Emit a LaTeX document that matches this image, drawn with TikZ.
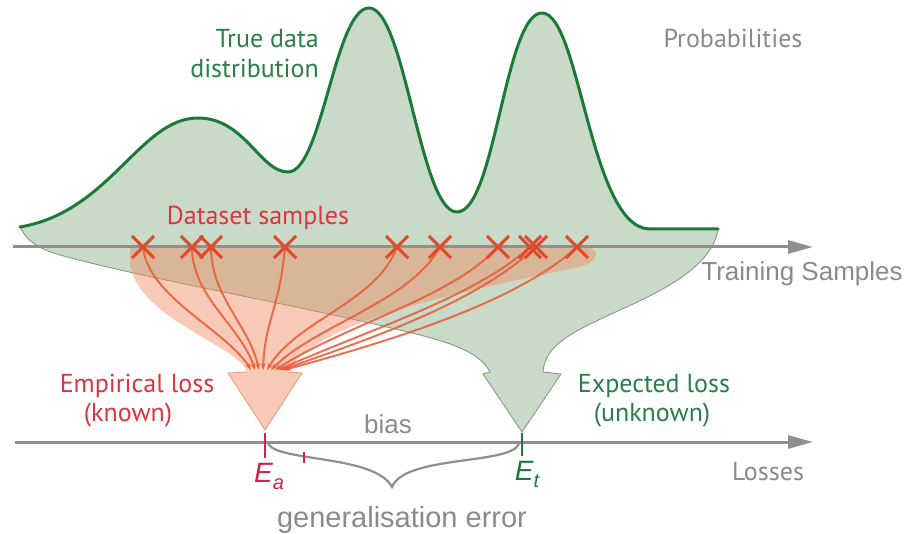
\documentclass[tikz,border=0pt]{standalone}
\usepackage{fontspec}
\setmainfont{Liberation Sans}
\newfontfamily\myr{PT Sans}
\usetikzlibrary{shapes.misc,arrows.meta}
\definecolor{gfill}{HTML}{C9DBC8}
\definecolor{gline}{HTML}{1B7A38}
\definecolor{gtext}{HTML}{2A7E48}
\definecolor{gedge}{HTML}{7E947E}
\definecolor{sal}{HTML}{F08A60}
\definecolor{saledge}{HTML}{E8967A}
\definecolor{crossc}{HTML}{E0492A}
\definecolor{arrc}{HTML}{E85A36}
\definecolor{rtext}{HTML}{DC3440}
\definecolor{crim}{HTML}{D42050}
\definecolor{axisc}{HTML}{8F8F8F}
\definecolor{gtxt}{HTML}{8A8A8A}
\tikzset{
  xmark/.style={cross out, draw=crossc, line width=2.8pt, minimum size=19pt, inner sep=0pt},
  fanarrow/.style={draw=arrc, opacity=0.85, line width=2pt, -{Stealth[length=7pt,width=5pt]}},
  axisline/.style={draw=axisc, line width=3pt, -{Triangle[length=25pt,width=13pt]}},
  lbl/.style={inner sep=0pt, anchor=base},
  big/.style={font=\fontsize{26}{30}\selectfont},
}
\newcommand{\subidx}[1]{\raisebox{-0.28em}{\fontsize{20}{20}\selectfont #1}}
\begin{document}
\begin{tikzpicture}[x=1pt,y=-1pt]
\useasboundingbox (0,0) rectangle (905,534);
% green distribution shape
\fill[gfill] (20,227) .. controls (110,212) and (140,118) .. (198,118)
  .. controls (245,118) and (260,172) .. (288,172)
  .. controls (322,172) and (335,8) .. (369,8)
  .. controls (405,8) and (420,212) .. (457,212)
  .. controls (495,212) and (505,13) .. (542,13)
  .. controls (580,13) and (590,229) .. (650,229) -- (718,229)
  .. controls (713,265) and (665,290) .. (620,310)
  .. controls (570,333) and (545,345) .. (543,372)
  -- (561,374) -- (522,432) -- (483,374) -- (490,372)
  .. controls (480,352) and (450,343) .. (420,335)
  .. controls (300,305) and (150,280) .. (60,255)
  .. controls (35,248) and (25,238) .. (20,227) -- cycle;
\draw[gedge, line width=0.8pt] (718,229)
  .. controls (713,265) and (665,290) .. (620,310)
  .. controls (570,333) and (545,345) .. (543,372)
  -- (561,374) -- (522,432) -- (483,374) -- (490,372)
  .. controls (480,352) and (450,343) .. (420,335)
  .. controls (300,305) and (150,280) .. (60,255)
  .. controls (35,248) and (25,238) .. (20,227);
% salmon fan
\fill[sal, opacity=0.45] (130,247) -- (588,247) .. controls (602,250) and (598,264) .. (575,268)
  .. controls (470,290) and (320,318) .. (287,372) -- (302,373) -- (265,430) -- (228,373) -- (247,372)
  .. controls (238,345) and (140,320) .. (130,265) -- cycle;
\draw[saledge, line width=0.8pt] (287,372) -- (302,373) -- (265,430) -- (228,373) -- (247,372);
% green curve
\draw[gline, line width=3pt, line cap=round] (20,227) .. controls (110,212) and (140,118) .. (198,118)
  .. controls (245,118) and (260,172) .. (288,172)
  .. controls (322,172) and (335,8) .. (369,8)
  .. controls (405,8) and (420,212) .. (457,212)
  .. controls (495,212) and (505,13) .. (542,13)
  .. controls (580,13) and (590,229) .. (650,229) -- (718,229);
% axes
\coordinate (ta0) at (13,247); \coordinate (ta1) at (813,247);
\coordinate (la0) at (15,442); \coordinate (la1) at (813,442);
\draw[axisline] (ta0) -- (ta1);
\draw[axisline] (la0) -- (la1);
% tips
\coordinate (t1) at (251,370); \coordinate (t2) at (255,370);
\coordinate (t3) at (259,370); \coordinate (t4) at (263,370);
\coordinate (t5) at (267,370); \coordinate (t6) at (271,370);
\coordinate (t7) at (275,370); \coordinate (t8) at (278,370);
\coordinate (t9) at (281,370); \coordinate (t10) at (284,370);
% samples
\node[xmark] (s1) at (143,247) {};
\node[xmark] (s2) at (192,247) {};
\node[xmark] (s3) at (211,247) {};
\node[xmark] (s4) at (285,247) {};
\node[xmark] (s5) at (397,247) {};
\node[xmark] (s6) at (440,247) {};
\node[xmark] (s7) at (498,247) {};
\node[xmark] (s8) at (530,247) {};
\node[xmark] (s9) at (536,247) {};
\node[xmark] (s10) at (577,247) {};
\draw[fanarrow] (s1.center) .. controls +(5,50) and +(-25,-40) .. (t1);
\draw[fanarrow] (s2.center) .. controls +(0,50) and +(-15,-45) .. (t2);
\draw[fanarrow] (s3.center) .. controls +(0,50) and +(-10,-45) .. (t3);
\draw[fanarrow] (s4.center) .. controls +(-5,60) and +(2,-50) .. (t4);
\draw[fanarrow] (s5.center) .. controls +(-20,55) and +(30,-50) .. (t5);
\draw[fanarrow] (s6.center) .. controls +(-30,55) and +(45,-45) .. (t6);
\draw[fanarrow] (s7.center) .. controls +(-45,50) and +(70,-45) .. (t7);
\draw[fanarrow] (s8.center) .. controls +(-55,50) and +(90,-40) .. (t8);
\draw[fanarrow] (s9.center) .. controls +(-60,55) and +(100,-35) .. (t9);
\draw[fanarrow] (s10.center) .. controls +(-60,55) and +(110,-30) .. (t10);
% redraw crosses on top
\foreach \i in {1,...,10} { \node[xmark] at (s\i) {}; }
% ticks and brace
\coordinate (ea0) at (265,433); \coordinate (ea1) at (265,458);
\coordinate (et0) at (522,433); \coordinate (et1) at (522,456);
\draw[crim, line width=2.6pt] (ea0) -- (ea1);
\draw[gline, line width=2.6pt] (et0) -- (et1);
\coordinate (bl) at (268,444); \coordinate (bm) at (392,487); \coordinate (br) at (519,444);
\draw[axisc, line width=2.2pt] (bl) .. controls (280,462) and (375,455) .. (bm)
  .. controls (405,455) and (510,465) .. (br);
\coordinate (rt0) at (304,452); \coordinate (rt1) at (304,463);
\draw[crim, line width=1.2pt] (rt0) -- (rt1);
% texts
\node[lbl, big, gtxt] (prob) at (733,48) {\myr Probabilities};
\node[lbl, big, gtext, anchor=base east] (tdd1) at (319,48) {\myr True data};
\node[lbl, big, gtext, anchor=base east] (tdd2) at (319,78) {\myr distribution};
\node[lbl, big, rtext] (ds) at (258,225) {\myr Dataset samples};
\node[lbl, big, gtxt] (trs) at (802,281) {Training Samples};
\node[lbl, big, rtext] (el1) at (137,392) {\myr Empirical loss};
\node[lbl, big, rtext] (el2) at (128,421) {\myr (known)};
\node[lbl, big, gtext] (xl1) at (654,392) {\myr Expected loss};
\node[lbl, big, gtext] (xl2) at (652,421) {\myr (unknown)};
\node[lbl, big, gtxt] (bias) at (388,433) {bias};
\node[lbl, big, gtxt] (loss) at (768,480) {\myr Losses};
\node[lbl, crim, font=\fontsize{28}{30}\selectfont\itshape] (ea) at (269,482) {E\subidx{a}};
\node[lbl, gline, font=\fontsize{28}{30}\selectfont\itshape] (et) at (527,480) {E\subidx{t}};
\node[lbl, gtxt, font=\fontsize{29}{32}\selectfont] (ge) at (402,527) {generalisation error};
\end{tikzpicture}
\end{document}
